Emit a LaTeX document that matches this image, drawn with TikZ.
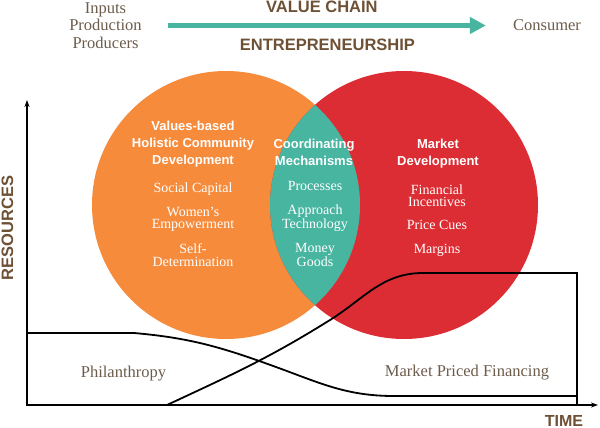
\documentclass[tikz,border=0pt]{standalone}
\usepackage{fontspec}
\setmainfont{Liberation Serif}
\setsansfont{Liberation Sans}
\usepackage{xcolor}
\usetikzlibrary{positioning,arrows.meta}

\definecolor{vborange}{RGB}{246,139,60}
\definecolor{mdred}{RGB}{221,45,52}
\definecolor{cmteal}{RGB}{72,181,160}
\definecolor{chainbrown}{RGB}{110,80,52}
\definecolor{stagebrown}{RGB}{108,92,76}

\tikzset{
    caption/.style={font=\sffamily\bfseries\fontsize{16.5}{19}\selectfont, text=chainbrown, inner sep=0pt},
    stage/.style={font=\fontsize{16.5}{17.5}\selectfont, text=stagebrown, align=center, inner sep=0pt},
    heading/.style={font=\sffamily\bfseries\fontsize{13}{16.7}\selectfont, text=white, align=center, inner sep=0pt, anchor=base},
    items/.style={font=\fontsize{14}{12.3}\selectfont, text=white, align=center, inner sep=0pt, anchor=base},
    chain/.style={cmteal, line width=5.3pt, -{Triangle[length=16pt,width=16pt]}},
    axis/.style={line width=1.6pt, {Stealth[length=7pt,width=5pt]}-{Stealth[length=7pt,width=5pt]}},
    funding/.style={line width=1.8pt},
}

\begin{document}
\begin{tikzpicture}[x=1pt,y=-1pt]
    \useasboundingbox (0,0) rectangle (600,428);
    \coordinate (vbcentre) at (226,205);
    \coordinate (mdcentre) at (404,205);
    \fill[vborange] (vbcentre) circle[radius=134pt];
    \fill[mdred] (mdcentre) circle[radius=134pt];
    \begin{scope}
        \clip (vbcentre) circle[radius=134pt];
        \fill[cmteal] (mdcentre) circle[radius=134pt];
    \end{scope}

    \node[stage] (inputs) at (105.5,25.5) {Inputs\\Production\\Producers};
    \node[stage] (consumer) at (547,25.5) {Consumer};
    \draw[chain, shorten <=26pt, shorten >=27pt] (inputs.east) -- (consumer.west)
        node[caption, pos=0.485, above=10pt] (valuechain) {VALUE CHAIN}
        node[caption, pos=0.5, below=10.5pt] (entrepreneurship) {ENTREPRENEURSHIP};

    \coordinate (origin) at (27,405);
    \coordinate (ytop) at (27,100);
    \coordinate (xend) at (598,405);
    \draw[axis] (ytop) -- (origin) -- (xend);

    \coordinate (philstart) at (27,333);
    \coordinate (philbend) at (134,333);
    \coordinate (philcross) at (276,367);
    \coordinate (philfloor) at (394,396);
    \coordinate (philend) at (577,396);
    \draw[funding] (philstart) -- (philbend) to[out=-5,in=160] (philcross)
        to[out=-20,in=180] (philfloor) -- (philend);

    \coordinate (mktstart) at (167,405);
    \coordinate (mktrise) at (330,320);
    \coordinate (plateau) at (423,273);
    \coordinate (plateauend) at (577,273);
    \coordinate (plateaufoot) at (577,405);
    \draw[funding] (mktstart) to[out=25,in=212] (mktrise) to[out=32,in=180] (plateau)
        -- (plateauend) -- (plateaufoot);

    \node[heading] (vbhcd) at (193,164.3) {Values-based\\Holistic Community\\Development};
    \node[heading] (cm) at (314,165) {Coordinating\\Mechanisms};
    \node[heading] (md) at (438,165) {Market\\Development};
    \node[items] (vbitems) at (193,266) {Social Capital\\[11.5pt]Women's\\Empowerment\\[11.5pt]Self-\\Determination};
    \node[items] (cmitems) at (315,266) {Processes\\[11.5pt]Approach\\Technology\\[11.5pt]Money\\Goods};
    \node[items] (mditems) at (437,253) {Financial\\Incentives\\[10.5pt]Price Cues\\[11pt]Margins};

    \node[stage, anchor=base] (philanthropy) at (123.5,377) {Philanthropy};
    \node[stage, anchor=base] (mpf) at (467,376) {Market Priced Financing};
    \node[caption, rotate=90] (resources) at (7.5,228) {RESOURCES};
    \node[caption, font=\sffamily\bfseries\fontsize{16}{19}\selectfont, anchor=base] (time) at (564,426) {TIME};
\end{tikzpicture}
\end{document}
